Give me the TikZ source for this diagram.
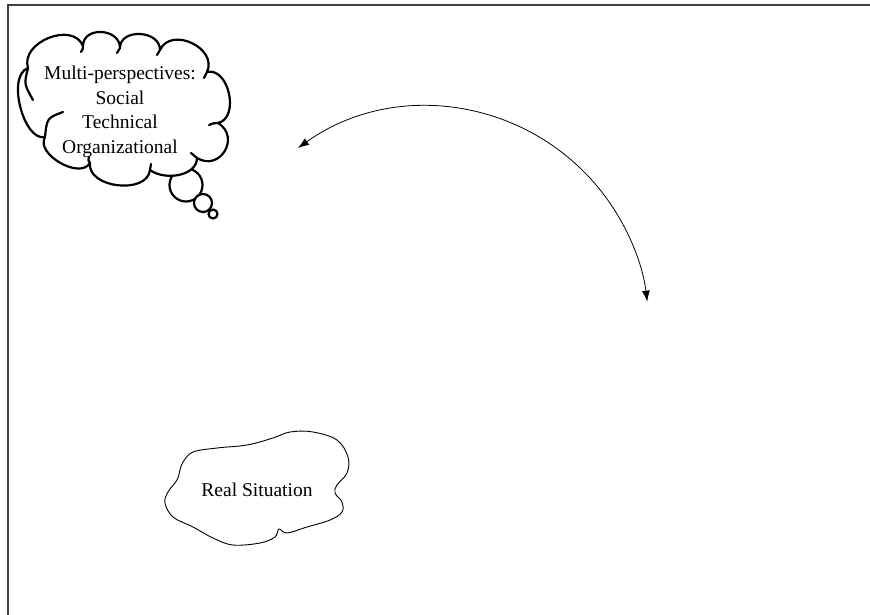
\documentclass[tikz,border=0pt]{standalone}
\usepackage{fontspec}
\setmainfont{Liberation Serif}
\usetikzlibrary{arrows.meta}
\tikzset{
  frameline/.style={line width=1.6pt, draw=black!75},
  cloudline/.style={line width=2.2pt, line join=round, line cap=round},
  bubble/.style={circle, draw, line width=2.2pt, inner sep=0pt, fill=white},
  cloudtext/.style={align=center, font=\fontsize{19.5}{24.5}\selectfont, inner sep=0pt},
  realoutline/.style={line width=0.9pt},
  cycarrow/.style={line width=0.8pt, {Latex[length=11pt,width=8pt]}-{Latex[length=11pt,width=8pt]}}
}
\begin{document}
\begin{tikzpicture}[x=1pt,y=-1pt]
\useasboundingbox (0,0) rectangle (870,615);
% frame (top and left edges)
\coordinate (fbl) at (8,615);
\coordinate (ftl) at (8,5);
\coordinate (ftr) at (870,5);
\draw[frameline] (fbl) -- (ftl) -- (ftr);

% thought cloud outline
\coordinate (J1) at (45,137);
\coordinate (J2) at (28,68);
\coordinate (J3) at (83,46);
\coordinate (J4) at (120,48);
\coordinate (J5) at (160,50);
\coordinate (J6) at (207,72);
\coordinate (J7) at (218,123);
\coordinate (J8) at (197,158);
\coordinate (J9) at (150,170);
\coordinate (J10) at (90,163);
\node[bubble, minimum size=33pt] (b1) at (186,185) {};
\node[bubble, minimum size=18pt] (b2) at (203,203) {};
\node[bubble, minimum size=9pt] (b3) at (213,214) {};
\draw[cloudline, fill=white]
  (J1) .. controls (24,142) and (6,76) .. (J2)
       .. controls (20,42) and (73,21) .. (J3)
       .. controls (83,26) and (120,28) .. (J4)
       .. controls (120,28) and (160,30) .. (J5)
       .. controls (171,26) and (218,48) .. (J6)
       .. controls (229,67) and (240,118) .. (J7)
       .. controls (241,137) and (220,172) .. (J8)
       .. controls (197,176) and (165,181) .. (J9)
       .. controls (147,195) and (87,188) .. (J10)
       .. controls (80,180) and (35,154) .. (J1) -- cycle;
% inner curls
\draw[cloudline] (J2) .. controls (24,84) .. (33,100);
\draw[cloudline] (J1) .. controls (47,118) .. (63,112);
\draw[cloudline] (J10) .. controls (88,160) .. (89,157);
\draw[cloudline] (J9) .. controls (150,167) .. (151,164);
\draw[cloudline] (J8) .. controls (194,155) .. (191,153);
\draw[cloudline] (J7) .. controls (214,123) .. (209,125);
\draw[cloudline] (J6) .. controls (206,75) .. (204,78);
\draw[cloudline] (J5) .. controls (159,53) .. (157,55);
\draw[cloudline] (J4) .. controls (119,51) .. (117,53);
\draw[cloudline] (J3) .. controls (83,49) .. (81,52);
\node[cloudtext] (persp) at (120,112) {Multi-perspectives:\\Social\\Technical\\Organizational};

% cycle arrow
\coordinate (arcstart) at (298,148);
\draw[cycarrow] (arcstart) arc[start angle=-125.5, end angle=-7, radius=222];

% real situation
\node[cloudtext] (real) at (257,490) {Real Situation};
\draw[realoutline] plot[smooth cycle, tension=0.6] coordinates {
 (183,462) (193,452) (217,448) (247,445) (273,438) (290,432) (313,432) (337,440)
 (348,457) (347,473) (337,485) (335,493) (342,502) (342,512) (330,520) (307,527)
 (287,533) (279,529) (275,537) (260,543) (233,545) (213,538) (193,527) (173,517)
 (165,503) (168,492) (177,480) (180,470)};
\end{tikzpicture}
\end{document}
